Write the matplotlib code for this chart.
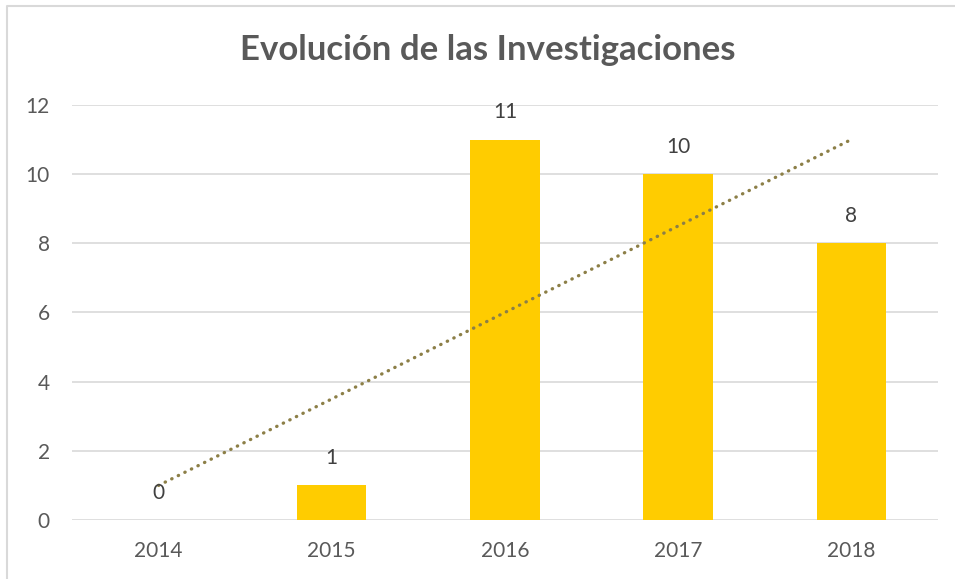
import numpy as np
import matplotlib.pyplot as plt
from matplotlib.lines import Line2D

years = ["2014", "2015", "2016", "2017", "2018"]
investigaciones = [0, 1, 11, 10, 8]

plt.rcParams["font.family"] = ["Lato", "DejaVu Sans"]

fig = plt.figure(figsize=(9.55, 5.79), dpi=100)
ax = fig.add_axes([0.0754, 0.1019, 0.9066, 0.7168])

x = np.arange(len(years))
ax.bar(x, investigaciones, width=0.4, color="#FFCC00", zorder=3)

# linear trendline
slope, intercept = np.polyfit(x, investigaciones, 1)
ax.plot(x, slope * x + intercept, color="#8C7F47", lw=2.4,
        linestyle=(0, (0.1, 2.1)), dash_capstyle="round", zorder=4)

for xi, v in zip(x, investigaciones):
    ax.text(xi, v + 0.5, str(v), ha="center", va="bottom",
            fontsize=15, color="#404040", zorder=5)

ax.set_xlim(-0.5, 4.5)
ax.set_ylim(0, 12)
ax.set_yticks(range(0, 13, 2))
ax.set_xticks(x)
ax.set_xticklabels(years)
ax.tick_params(axis="both", length=0, labelsize=15, colors="#595959")
ax.tick_params(axis="y", pad=16)
ax.tick_params(axis="x", pad=15)
ax.grid(axis="y", color="#D9D9D9", lw=1.2, zorder=0)
for s in ax.spines.values():
    s.set_visible(False)

fig.text(0.511, 0.913, "Evolución de las Investigaciones", ha="center",
         va="center", fontsize=25, fontweight="bold", color="#595959")

# chart border (only top and left visible)
fig.lines.append(Line2D([0.0073, 0.0073, 1.0], [0.0, 0.989, 0.989],
                        transform=fig.transFigure, color="#D9D9D9", lw=1.5))

fig.savefig("out.png", dpi=100)
